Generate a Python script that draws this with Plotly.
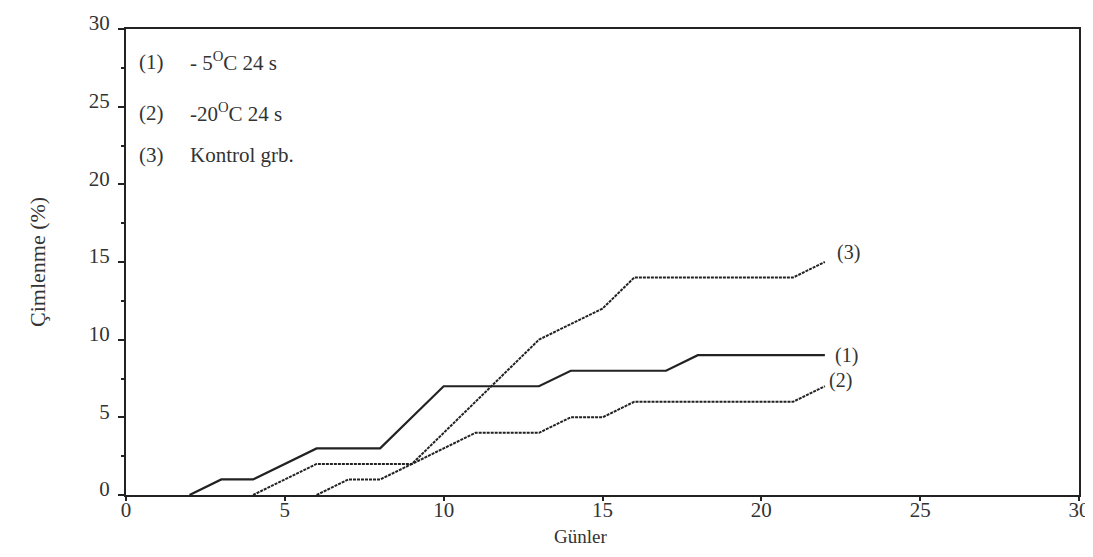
import plotly.graph_objects as go

# Data
days = list(range(0, 23))
series1 = [None, None, 0, 1, 1, 2, 3, 3, 3, 5, 7, 7, 7, 7, 8, 8, 8, 8, 9, 9, 9, 9, 9]
series2 = [None, None, None, None, 0, 1, 2, 2, 2, 2, 3, 4, 4, 4, 5, 5, 6, 6, 6, 6, 6, 6, 7]
series3 = [None, None, None, None, None, None, 0, 1, 1, 2, 4, 6, 8, 10, 11, 12, 14, 14, 14, 14, 14, 14, 15]
series_tags = ["(1)", "(2)", "(3)"]
legend_texts = ["- 5<sup>O</sup>C 24 s", "-20<sup>O</sup>C 24 s", "Kontrol grb."]
x_ticks = [0, 5, 10, 15, 20, 25, 30]
y_ticks = [0, 5, 10, 15, 20, 25, 30]
x_title = "Günler"
y_title = "Çimlenme (%)"

FONT = "Liberation Serif"
INK = "#222222"
TXT = "#333333"

fig = go.Figure()
fig.add_trace(go.Scatter(x=days, y=series1, mode="lines",
                         line=dict(color=INK, width=2.2), showlegend=False))
fig.add_trace(go.Scatter(x=days, y=series2, mode="lines",
                         line=dict(color=INK, width=2, dash="3px,1px"), showlegend=False))
fig.add_trace(go.Scatter(x=days, y=series3, mode="lines",
                         line=dict(color=INK, width=2, dash="3px,1px"), showlegend=False))
# invisible copy that carries the tick-label axis (x2)
fig.add_trace(go.Scatter(x=days, y=series1, mode="lines", xaxis="x2", opacity=0,
                         hoverinfo="skip", showlegend=False))

# End labels for each curve
end_vals = [series1[-1], series2[-1], series3[-1]]
end_offsets = [0, 0.4, 0.6]
end_shifts = [8, 2, 10]
for tag, v, off, sh in zip(series_tags, end_vals, end_offsets, end_shifts):
    fig.add_annotation(x=days[-1], y=v + off, text=tag, showarrow=False,
                       xanchor="left", xshift=sh,
                       font=dict(family=FONT, size=20, color=TXT))

# Legend block (top-left, as text)
legend_y = [27.9, 24.6, 21.9]
for tag, txt, yv in zip(series_tags, legend_texts, legend_y):
    fig.add_annotation(x=0.35, y=yv, text=tag, showarrow=False, xanchor="left",
                       font=dict(family=FONT, size=21, color=TXT))
    fig.add_annotation(x=1.95, y=yv, text=txt, showarrow=False, xanchor="left",
                       font=dict(family=FONT, size=21, color=TXT))

# Axis titles
fig.add_annotation(x=14.3, y=0, yref="paper", text=x_title, showarrow=False,
                   yanchor="middle", yshift=-41,
                   font=dict(family=FONT, size=19, color=TXT))
fig.add_annotation(x=0, xref="paper", y=0.5, yref="paper", text=y_title,
                   showarrow=False, textangle=-90, xanchor="center",
                   xshift=-89, font=dict(family=FONT, size=22, color=TXT))

fig.update_layout(
    width=1093, height=557,
    margin=dict(l=118, r=22, t=21, b=70, autoexpand=False),
    paper_bgcolor="white", plot_bgcolor="white",
    font=dict(family=FONT, size=16, color=TXT),
    xaxis=dict(
        range=[0, 30], tickvals=x_ticks, showgrid=False, zeroline=False,
        showline=True, linecolor=INK, linewidth=2, mirror=True,
        ticks="outside", ticklen=4, tickwidth=1.5, tickcolor=INK,
        showticklabels=False, automargin=False,
    ),
    xaxis2=dict(
        overlaying="x", anchor="free", position=0, side="bottom",
        range=[0, 30], tickvals=x_ticks, showgrid=False, zeroline=False,
        showline=False, ticks="", automargin=False,
        ticklabeloverflow="allow",
        tickfont=dict(family=FONT, size=21, color=TXT),
    ),
    yaxis=dict(
        range=[0, 30], tickvals=y_ticks, showgrid=False, zeroline=False,
        showline=True, linecolor=INK, linewidth=2, mirror=True,
        ticks="outside", ticklen=6, tickwidth=1.5, tickcolor=INK,
        minor=dict(dtick=2.5, ticks="outside", ticklen=3, tickcolor=INK, showgrid=False),
        tickfont=dict(family=FONT, size=21, color=TXT),
        ticklabelshift=-6, ticklabelstandoff=4,
        automargin=False,
    ),
)

fig.write_html("out.html")
